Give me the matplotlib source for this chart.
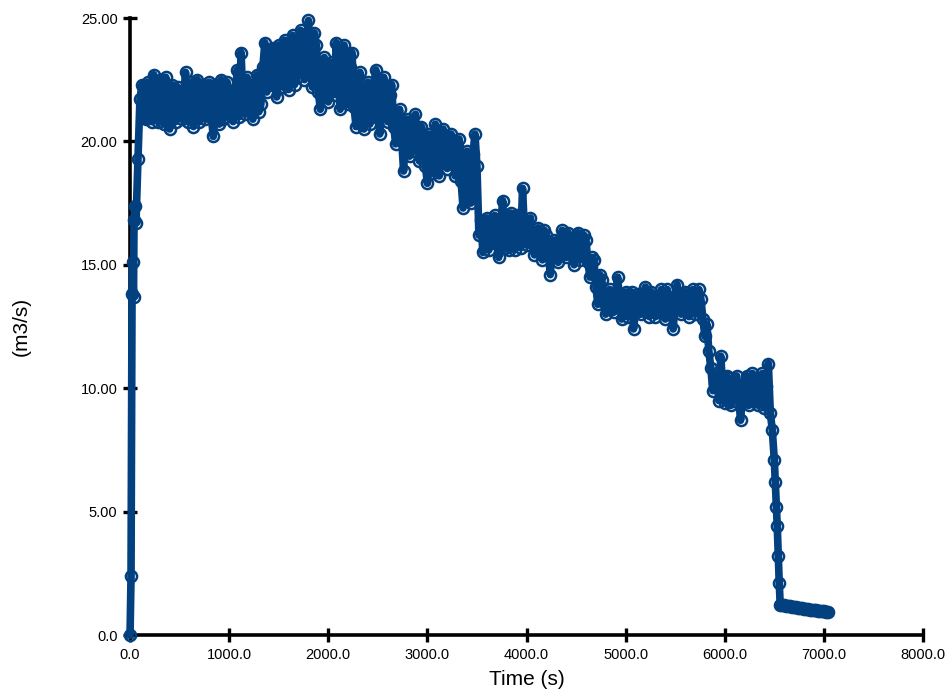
import matplotlib
matplotlib.use("Agg")
import matplotlib.pyplot as plt

plt.rcParams['font.family'] = ['Liberation Sans', 'DejaVu Sans']

# ---- data ----
rise_t = [0, 10, 20, 25, 35, 40, 50, 60, 80, 100]
rise_q = [0.0, 2.4, 13.8, 15.1, 13.7, 16.8, 17.4, 16.7, 19.3, 21.7]

main_t = [120, 160, 200, 240, 280, 320, 360, 400, 440, 480,
          520, 560, 600, 640, 680, 720, 760, 800, 840, 880,
          920, 960, 1000, 1040, 1080, 1120, 1160, 1200, 1240, 1280,
          1320, 1360, 1400, 1440, 1480, 1520, 1560, 1600, 1640, 1680,
          1720, 1760, 1800, 1840, 1880, 1920, 1960, 2000, 2040, 2080,
          2120, 2160, 2200, 2240, 2280, 2320, 2360, 2400, 2440, 2480,
          2520, 2560, 2600, 2640, 2680, 2720, 2760, 2800, 2840, 2880,
          2920, 2960, 3000, 3040, 3080, 3120, 3160, 3200, 3240, 3280,
          3320, 3360, 3400, 3440, 3480, 3520, 3560, 3600, 3640, 3680,
          3720, 3760, 3800, 3840, 3880, 3920, 3960, 4000, 4040, 4080,
          4120, 4160, 4200, 4240, 4280, 4320, 4360, 4400, 4440, 4480,
          4520, 4560, 4600, 4640, 4680, 4720, 4760, 4800, 4840, 4880,
          4920, 4960, 5000, 5040, 5080, 5120, 5160, 5200, 5240, 5280,
          5320, 5360, 5400, 5440, 5480, 5520, 5560, 5600, 5640, 5680,
          5720, 5760, 5800, 5840, 5880, 5920, 5960, 6000, 6040, 6080,
          6120, 6160, 6200, 6240, 6280, 6320, 6360, 6400, 6440]
main_q = [22.3, 20.9, 22.1, 22.7, 20.8, 21.9, 22.6, 20.5, 21.6, 22.2,
          20.9, 22.8, 21.2, 20.6, 22.5, 21.3, 20.9, 22.4, 20.2, 21.8,
          22.5, 21.0, 21.7, 20.8, 22.9, 23.6, 21.1, 22.3, 20.9, 22.7,
          21.5, 24.0, 22.3, 23.8, 21.8, 23.2, 24.1, 22.1, 24.3, 22.6,
          24.5, 22.5, 24.9, 22.2, 23.9, 21.3, 23.4, 21.6, 23.2, 24.0,
          21.3, 23.9, 21.5, 23.6, 20.6, 22.8, 20.5, 22.4, 21.0, 22.9,
          20.3, 22.6, 20.8, 22.3, 19.9, 21.3, 18.8, 20.9, 19.6, 21.1,
          19.2, 20.2, 18.3, 19.8, 20.7, 18.6, 20.5, 18.9, 20.3, 18.6,
          20.1, 17.3, 19.6, 17.5, 20.3, 16.2, 15.5, 16.9, 15.9, 17.0,
          15.3, 17.6, 16.2, 17.1, 15.6, 16.8, 18.1, 15.8, 16.9, 15.4,
          16.5, 15.2, 16.2, 14.6, 16.0, 15.1, 16.4, 15.3, 16.1, 15.0,
          16.3, 15.4, 16.0, 14.5, 15.2, 13.4, 14.4, 13.0, 14.0, 13.1,
          14.5, 12.8, 13.9, 13.2, 12.4, 13.8, 13.0, 14.1, 12.9, 13.7,
          13.1, 14.0, 12.8, 13.6, 12.4, 14.2, 13.0, 13.9, 12.9, 14.0,
          13.2, 13.6, 12.1, 11.5, 9.9, 10.6, 11.3, 9.4, 10.4, 9.5,
          10.5, 8.7, 10.2, 9.3, 10.6, 9.6, 10.3, 9.2, 11.0]

# in-between samples
fill_t = [140, 180, 220, 260, 300, 340, 380, 420, 460, 500,
          540, 580, 620, 660, 700, 740, 780, 820, 860, 900,
          940, 980, 1020, 1060, 1100, 1140, 1180, 1220, 1260, 1300,
          1340, 1380, 1420, 1460, 1500, 1540, 1580, 1620, 1660, 1700,
          1740, 1780, 1820, 1860, 1900, 1940, 1980, 2020, 2060, 2100,
          2140, 2180, 2220, 2260, 2300, 2340, 2380, 2420, 2460, 2500,
          2540, 2580, 2620, 2660, 2700, 2740, 2780, 2820, 2860, 2900,
          2940, 2980, 3020, 3060, 3100, 3140, 3180, 3220, 3260, 3300,
          3340, 3380, 3420, 3460, 3500, 3540, 3580, 3620, 3660, 3700,
          3740, 3780, 3820, 3860, 3900, 3940, 3980, 4020, 4060, 4100,
          4140, 4180, 4220, 4260, 4300, 4340, 4380, 4420, 4460, 4500,
          4540, 4580, 4620, 4660, 4700, 4740, 4780, 4820, 4860, 4900,
          4940, 4980, 5020, 5060, 5100, 5140, 5180, 5220, 5260, 5300,
          5340, 5380, 5420, 5460, 5500, 5540, 5580, 5620, 5660, 5700,
          5740, 5780, 5820, 5860, 5900, 5940, 5980, 6020, 6060, 6100,
          6140, 6180, 6220, 6260, 6300, 6340, 6380, 6420]
fill_q = [21.0, 22.4, 20.8, 21.4, 22.5, 20.7, 21.3, 22.3, 20.8, 21.5,
          21.8, 20.8, 22.4, 21.5, 20.8, 22.3, 21.9, 21.0, 22.3, 20.7,
          20.9, 22.4, 22.0, 21.5, 21.0, 21.6, 22.6, 21.3, 22.0, 21.2,
          23.0, 22.0, 23.5, 22.4, 23.9, 22.2, 22.8, 23.6, 22.3, 23.8,
          22.9, 24.2, 23.4, 24.4, 22.0, 22.9, 21.8, 22.7, 21.9, 22.6,
          23.7, 22.4, 23.0, 21.4, 21.9, 21.3, 21.8, 20.7, 22.3, 21.4,
          21.9, 21.5, 21.9, 20.6, 20.9, 20.1, 20.4, 19.4, 20.5, 19.9,
          20.6, 19.0, 20.3, 18.7, 19.4, 19.9, 19.3, 19.9, 19.2, 19.8,
          18.4, 18.9, 18.1, 19.5, 19.0, 16.8, 16.6, 15.6, 16.4, 16.1,
          16.7, 15.7, 15.6, 16.4, 17.0, 15.7, 16.3, 16.6, 15.9, 16.2,
          15.6, 16.4, 15.5, 15.8, 15.5, 16.0, 15.6, 16.3, 15.4, 15.8,
          15.2, 16.2, 15.1, 15.3, 14.1, 14.6, 13.5, 13.8, 13.2, 13.9,
          13.4, 13.6, 12.9, 13.9, 13.1, 13.3, 13.8, 13.3, 13.9, 12.9,
          13.5, 13.3, 14.0, 13.1, 13.5, 13.4, 13.8, 13.3, 13.5, 13.0,
          14.0, 12.8, 12.6, 10.8, 10.2, 9.5, 10.0, 10.5, 9.3, 10.2,
          9.6, 9.8, 10.5, 9.5, 10.0, 9.3, 10.6, 10.1]

drop_t = [6460, 6480, 6500, 6510, 6520, 6530, 6540, 6550, 6560]
drop_q = [9.0, 8.3, 7.1, 6.2, 5.2, 4.4, 3.2, 2.1, 1.2]

tail_t = [6580, 6600, 6620, 6640, 6660, 6680, 6700, 6720, 6740, 6760, 6780, 6800,
          6820, 6840, 6860, 6880, 6900, 6920, 6940, 6960, 6980, 7000, 7020, 7040]
tail_q = [1.2, 1.2, 1.19, 1.18, 1.16, 1.15, 1.14, 1.12, 1.11, 1.1, 1.08, 1.06,
          1.05, 1.04, 1.03, 1.02, 1.01, 1.0, 0.99, 0.98, 0.97, 0.96, 0.95, 0.95]

pairs = sorted(zip(rise_t + main_t + fill_t + drop_t + tail_t,
                   rise_q + main_q + fill_q + drop_q + tail_q))
time_s = [p[0] for p in pairs]
flow = [p[1] for p in pairs]

x_ticks = [0, 1000, 2000, 3000, 4000, 5000, 6000, 7000, 8000]
x_labels = ["0.0", "1000.0", "2000.0", "3000.0", "4000.0", "5000.0", "6000.0", "7000.0", "8000.0"]
y_ticks = [0, 5, 10, 15, 20, 25]
y_labels = ["0.0", "5.00", "10.00", "15.00", "20.00", "25.00"]

color = "#02407f"

fig = plt.figure(figsize=(9.52, 6.95), dpi=100)
ax = fig.add_axes([0.1366, 0.0863, 0.8329, 0.8878])

ax.plot(time_s, flow, color=color, linewidth=5.5, clip_on=False, zorder=3)
ax.plot(time_s, flow, linestyle='none', marker='o', markersize=8,
        markerfacecolor='none', markeredgecolor=color, markeredgewidth=1.8,
        clip_on=False, zorder=3)

ax.set_xlim(0, 8000)
ax.set_ylim(0, 25)
ax.set_xticks(x_ticks)
ax.set_xticklabels(x_labels)
ax.set_yticks(y_ticks)
ax.set_yticklabels(y_labels)

for side in ['top', 'right']:
    ax.spines[side].set_visible(False)
for side in ['left', 'bottom']:
    ax.spines[side].set_linewidth(2.6)
    ax.spines[side].set_color('black')
    ax.spines[side].set_zorder(2)

ax.tick_params(axis='both', direction='inout', length=10, width=2.4,
               labelsize=10.5, colors='black', pad=4)

ax.set_xlabel("Time (s)", fontsize=15, labelpad=6)
ax.set_ylabel("(m3/s)", fontsize=15, labelpad=36)

fig.savefig("out.png", dpi=100)
